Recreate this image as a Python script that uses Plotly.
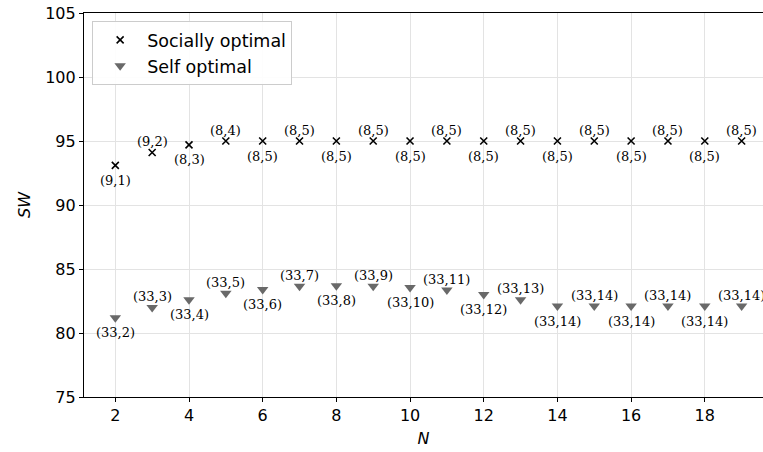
import plotly.graph_objects as go

# Number of participants N
n_values = list(range(2, 20))

# Social welfare under the socially optimal configuration
sw_social = [93.1, 94.1, 94.7, 95.0, 95.0, 95.0, 95.0, 95.0, 95.0,
             95.0, 95.0, 95.0, 95.0, 95.0, 95.0, 95.0, 95.0, 95.0]
social_labels = ["(9,1)", "(9,2)", "(8,3)", "(8,4)", "(8,5)", "(8,5)", "(8,5)", "(8,5)", "(8,5)",
                 "(8,5)", "(8,5)", "(8,5)", "(8,5)", "(8,5)", "(8,5)", "(8,5)", "(8,5)", "(8,5)"]

# Social welfare under the self optimal configuration
sw_self = [81.2, 82.0, 82.6, 83.1, 83.4, 83.65, 83.7, 83.65, 83.55,
           83.35, 83.0, 82.6, 82.1, 82.1, 82.1, 82.1, 82.1, 82.1]
self_labels = ["(33,2)", "(33,3)", "(33,4)", "(33,5)", "(33,6)", "(33,7)", "(33,8)", "(33,9)", "(33,10)",
               "(33,11)", "(33,12)", "(33,13)", "(33,14)", "(33,14)", "(33,14)", "(33,14)", "(33,14)", "(33,14)"]

x_ticks = [2, 4, 6, 8, 10, 12, 14, 16, 18]
y_ticks = [75, 80, 85, 90, 95, 100, 105]

fig = go.Figure()
fig.add_trace(go.Scatter(
    x=n_values, y=sw_social, mode="markers", name="Socially optimal",
    marker=dict(symbol="x-thin-open", size=7, color="black",
                line=dict(color="black", width=1.6)),
))
fig.add_trace(go.Scatter(
    x=n_values, y=sw_self, mode="markers", name="Self optimal",
    marker=dict(symbol="triangle-down", size=10, color="#696969",
                line=dict(width=0)),
))

# Configuration labels: even N below the marker, odd N above it
annotations = []
for xs, ys, labels in ((n_values, sw_social, social_labels), (n_values, sw_self, self_labels)):
    for n, v, lab in zip(xs, ys, labels):
        above = (n % 2 == 1)
        annotations.append(dict(
            x=n, y=v, xref="x", yref="y", text=lab, showarrow=False,
            xanchor="center", yanchor="middle", yshift=11 if above else -15,
            font=dict(family="DejaVu Serif", size=13, color="black"),
        ))

fig.update_layout(
    width=763, height=452,
    margin=dict(l=84, r=0, t=13, b=55),
    plot_bgcolor="white", paper_bgcolor="white",
    font=dict(family="DejaVu Sans", size=16, color="black"),
    showlegend=True,
    legend=dict(
        x=0.012, y=0.979, xanchor="left", yanchor="top",
        bgcolor="rgba(255,255,255,0.9)", bordercolor="#cccccc", borderwidth=1,
        font=dict(family="DejaVu Sans", size=17.5, color="black"),
        itemwidth=44, tracegroupgap=2,
    ),
    annotations=annotations,
    xaxis=dict(
        range=[1.15, 19.58], tickvals=x_ticks, ticks="outside", ticklen=4,
        tickcolor="black", showline=True, linecolor="black", linewidth=1.2,
        mirror=True, showgrid=True, gridcolor="#e3e3e3", gridwidth=1,
        zeroline=False,
        title=dict(text="<i>N</i>", font=dict(size=16), standoff=8),
    ),
    yaxis=dict(
        range=[75, 105], tickvals=y_ticks, ticks="outside", ticklen=4,
        tickcolor="black", showline=True, linecolor="black", linewidth=1.2,
        showgrid=True, gridcolor="#e3e3e3", gridwidth=1, zeroline=False,
        title=dict(text="<i>SW</i>", font=dict(size=16), standoff=10),
    ),
)

fig.write_html("out.html")
